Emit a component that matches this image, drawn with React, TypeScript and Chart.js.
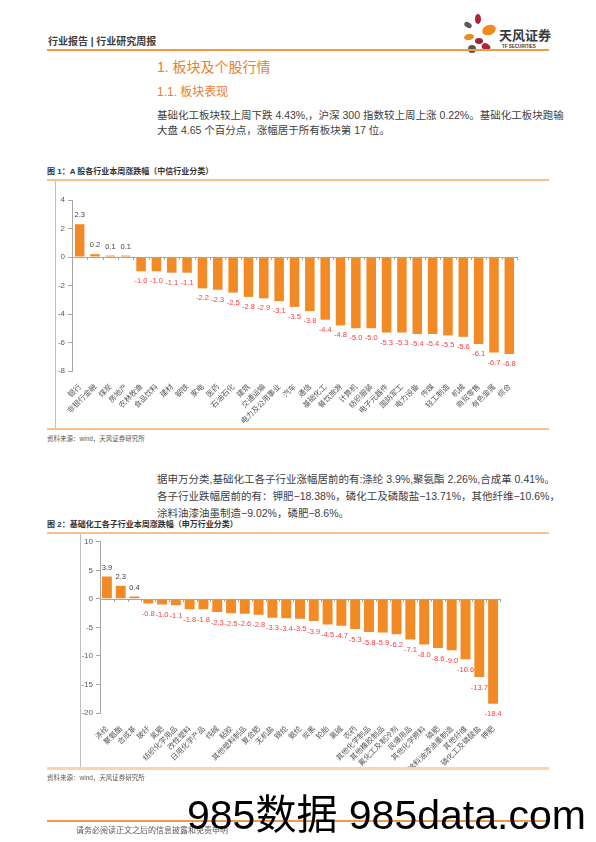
import React, { useEffect, useRef } from "react";
import { Chart, registerables } from "chart.js";
Chart.register(...registerables);

// ---------- data ----------
const citicCategories = [
  "银行", "非银行金融", "煤炭", "房地产", "农林牧渔", "食品饮料", "建材", "钢铁", "家电", "医药",
  "石油石化", "建筑", "交通运输", "电力及公用事业", "汽车", "通信", "基础化工", "餐饮旅游", "计算机", "纺织服装",
  "电子元器件", "国防军工", "电力设备", "传媒", "轻工制造", "机械", "商贸零售", "有色金属", "综合",
];
const citicValues = [
  2.3, 0.2, 0.1, 0.1, -1.0, -1.0, -1.1, -1.1, -2.2, -2.3,
  -2.5, -2.8, -2.9, -3.1, -3.5, -3.8, -4.4, -4.8, -5.0, -5.0,
  -5.3, -5.3, -5.4, -5.4, -5.5, -5.6, -6.1, -6.7, -6.8,
];
const citicAxis = { min: -8, max: 4, step: 2 };

const swCategories = [
  "涤纶", "聚氨酯", "合成革", "玻纤", "氮肥", "纺织化学用品", "改性塑料", "日用化学产品", "纯碱", "粘胶",
  "其他塑料制品", "复合肥", "无机盐", "锦纶", "氨纶", "炭黑", "轮胎", "氯碱", "农药", "其他化学制品",
  "其他橡胶制品", "氟化工及制冷剂", "民爆用品", "其他化学原料", "磷肥", "涂料油漆油墨制造", "其他纤维", "磷化工及磷酸盐", "钾肥",
];
const swValues = [
  3.9, 2.3, 0.4, -0.8, -1.0, -1.1, -1.8, -1.8, -2.3, -2.5,
  -2.6, -2.8, -3.3, -3.4, -3.5, -3.9, -4.5, -4.7, -5.3, -5.8,
  -5.9, -6.2, -7.1, -8.0, -8.6, -9.0, -10.6, -13.7, -18.4,
];
const swAxis = { min: -20, max: 10, step: 5 };

// ---------- styles ----------
const FONT = '"Liberation Sans", "Noto Sans CJK SC", sans-serif';
const CJK = '"Noto Sans CJK SC", "Liberation Sans", sans-serif';
const ORANGE = "#F28A25";
const RED = "#FF3B3B";
const AXIS = "#A6A6A6";
const TEXT = "#404040";

const valueLabels = {
  id: "valueLabels",
  afterDatasetsDraw(chart: any, _args: any, opts: any) {
    const { ctx, chartArea } = chart;
    const y0 = chart.scales.y.getPixelForValue(0);
    ctx.save();
    // zero line with small tick marks
    ctx.strokeStyle = AXIS;
    ctx.lineWidth = 1;
    ctx.beginPath();
    ctx.moveTo(chartArea.left, Math.round(y0) + 0.5);
    ctx.lineTo(chartArea.right, Math.round(y0) + 0.5);
    const n = chart.data.labels.length;
    const w = (chartArea.right - chartArea.left) / n;
    for (let i = 0; i <= n; i++) {
      const x = Math.round(chartArea.left + i * w) + 0.5;
      ctx.moveTo(x, Math.round(y0));
      ctx.lineTo(x, Math.round(y0) + 3);
    }
    ctx.stroke();
    // value labels
    const meta = chart.getDatasetMeta(0);
    const data = chart.data.datasets[0].data as number[];
    ctx.font = `${opts.size}px ${FONT}`;
    ctx.textAlign = "center";
    ctx.textBaseline = "middle";
    meta.data.forEach((bar: any, i: number) => {
      const v = data[i];
      const txt = v.toFixed(1);
      if (v >= 0) {
        ctx.fillStyle = TEXT;
        ctx.fillText(txt, bar.x, bar.y - opts.posGap);
      } else {
        ctx.fillStyle = RED;
        ctx.fillText(txt, bar.x, bar.y + opts.negGap);
      }
    });
    ctx.restore();
  },
};

type BarProps = {
  categories: string[];
  values: number[];
  axis: { min: number; max: number; step: number };
  left: number;
  top: number;
  width: number;
  height: number;
  padTop: number;
  padRight: number;
  yWidth: number;
  xHeight: number;
  barPct: number;
  tickFont: number;
  catFont: number;
  labelFont: number;
  posGap: number;
  negGap: number;
};

function BarChart(p: BarProps) {
  const ref = useRef<HTMLCanvasElement | null>(null);
  useEffect(() => {
    if (!ref.current) return;
    const chart = new Chart(ref.current, {
      type: "bar",
      data: {
        labels: p.categories,
        datasets: [
          {
            data: p.values,
            backgroundColor: ORANGE,
            borderWidth: 0,
            barPercentage: p.barPct,
            categoryPercentage: 1,
          },
        ],
      },
      options: {
        responsive: false,
        animation: false,
        devicePixelRatio: 1,
        layout: { padding: { top: p.padTop, right: p.padRight, left: 0, bottom: 0 } },
        plugins: {
          legend: { display: false },
          tooltip: { enabled: false },
          valueLabels: { size: p.labelFont, posGap: p.posGap, negGap: p.negGap },
        } as any,
        scales: {
          x: {
            grid: { display: false },
            border: { display: false },
            ticks: {
              autoSkip: false,
              maxRotation: 45,
              minRotation: 45,
              padding: 3,
              color: "#595959",
              font: { size: p.catFont, family: CJK },
            },
            afterFit: (s: any) => {
              s.height = p.xHeight;
            },
          },
          y: {
            min: p.axis.min,
            max: p.axis.max,
            grid: { drawOnChartArea: false, drawTicks: true, tickLength: 4, color: AXIS },
            border: { display: true, color: AXIS },
            ticks: {
              stepSize: p.axis.step,
              padding: 3,
              color: "#595959",
              font: { size: p.tickFont, family: FONT },
            },
            afterFit: (s: any) => {
              s.width = p.yWidth;
            },
          },
        },
      },
      plugins: [valueLabels as any],
    });
    return () => chart.destroy();
  }, []);
  return (
    <canvas
      ref={ref}
      width={p.width}
      height={p.height}
      style={{ position: "absolute", left: p.left, top: p.top, width: p.width, height: p.height }}
    />
  );
}

function T(props: {
  x: number;
  y: number;
  size: number;
  color?: string;
  bold?: boolean;
  w?: number;
  justify?: boolean;
  family?: string;
  children: React.ReactNode;
}) {
  const lh = Math.round(props.size * 1.4);
  return (
    <div
      style={{
        position: "absolute",
        left: props.x,
        top: props.y - lh / 2,
        height: lh,
        lineHeight: lh + "px",
        fontSize: props.size,
        fontWeight: props.bold ? 700 : 400,
        color: props.color || TEXT,
        fontFamily: props.family || FONT,
        whiteSpace: "nowrap",
        width: props.w,
        textAlign: props.justify ? "justify" : "left",
        textAlignLast: props.justify ? "justify" : "left",
      } as any}
    >
      {props.children}
    </div>
  );
}

function HLine(props: { x: number; y: number; w: number; h: number; color: string }) {
  return (
    <div
      style={{
        position: "absolute",
        left: props.x,
        top: props.y,
        width: props.w,
        height: props.h,
        background: props.color,
      }}
    />
  );
}

function Logo() {
  return (
    <svg
      width={40}
      height={42}
      viewBox="0 0 40 42"
      style={{ position: "absolute", left: 460, top: 13 }}
    >
      <ellipse cx={18} cy={6} rx={3} ry={5} fill="#B0243A" />
      <ellipse cx={8} cy={12} rx={4} ry={2.6} fill="#5A5A5A" transform="rotate(30 8 12)" />
      <ellipse cx={29} cy={17} rx={7} ry={5} fill="#EE8A1E" transform="rotate(-20 29 17)" />
      <ellipse cx={9} cy={24} rx={5} ry={3} fill="#EE8A1E" transform="rotate(-10 9 24)" />
      <ellipse cx={19} cy={28} rx={4} ry={3} fill="#9C2236" />
      <ellipse cx={26} cy={34} rx={4.5} ry={3.5} fill="#B0243A" transform="rotate(30 26 34)" />
      <ellipse cx={12} cy={36} rx={4} ry={4} fill="#555555" />
    </svg>
  );
}

export default function App() {
  return (
    <div
      style={{
        position: "absolute",
        left: 0,
        top: 0,
        width: 596,
        height: 842,
        background: "#fff",
        overflow: "hidden",
        fontFamily: FONT,
      }}
    >
      {/* header */}
      <T x={48} y={42} size={10} bold color="#404040">
        行业报告 | 行业研究周报
      </T>
      <Logo />
      <T x={499} y={36} size={13} bold color="#3A3A3A">
        天风证券
      </T>
      <T x={502} y={46.5} size={4.5} bold color="#3A3A3A">
        TF SECURITIES
      </T>
      <HLine x={47} y={49} w={502} h={2} color="#F39A47" />

      <T x={157} y={67} size={14} color="#E8802E">
        1. 板块及个股行情
      </T>
      <T x={157} y={92} size={12} color="#E8802E">
        1.1. 板块表现
      </T>
      <T x={157} y={115} size={10.5} w={391} justify>
        基础化工板块较上周下跌 4.43%,，沪深 300 指数较上周上涨 0.22%。基础化工板块跑输
      </T>
      <T x={157} y={130} size={10.5}>
        大盘 4.65 个百分点，涨幅居于所有板块第 17 位。
      </T>

      {/* figure 1 */}
      <T x={47} y={171} size={8} bold color="#333333">
        图 1：A 股各行业本周涨跌幅（中信行业分类）
      </T>
      <HLine x={47} y={179} w={502} h={1.5} color="#F7C08F" />
      <div style={{ position: "absolute", left: 55, top: 181, width: 1, height: 247, background: "#BFBFBF" }} />
      <BarChart
        categories={citicCategories}
        values={citicValues}
        axis={citicAxis}
        left={50}
        top={181}
        width={500}
        height={247}
        padTop={19}
        padRight={33}
        yWidth={22}
        xHeight={57}
        barPct={0.62}
        tickFont={8}
        catFont={7.5}
        labelFont={7.5}
        posGap={9}
        negGap={10}
      />
      <HLine x={47} y={428} w={502} h={1.5} color="#F7C08F" />
      <T x={47} y={438} size={6.5} color="#595959">
        资料来源：wind，天风证券研究所
      </T>

      <T x={157} y={479} size={10.5} w={391} justify>
        据申万分类,基础化工各子行业涨幅居前的有:涤纶 3.9%,聚氨酯 2.26%,合成革 0.41%。
      </T>
      <T x={157} y={496} size={10.5}>
        各子行业跌幅居前的有：钾肥−18.38%，磷化工及磷酸盐−13.71%，其他纤维−10.6%，
      </T>
      <T x={157} y={513} size={10.5}>
        涂料油漆油墨制造−9.02%，磷肥−8.6%。
      </T>

      {/* figure 2 */}
      <T x={47} y={524} size={8} bold color="#333333">
        图 2：基础化工各子行业本周涨跌幅（申万行业分类）
      </T>
      <HLine x={47} y={532} w={502} h={1.5} color="#F7C08F" />
      <div style={{ position: "absolute", left: 80, top: 534, width: 1, height: 234, background: "#BFBFBF" }} />
      <BarChart
        categories={swCategories}
        values={swValues}
        axis={swAxis}
        left={75}
        top={534}
        width={440}
        height={234}
        padTop={7}
        padRight={15}
        yWidth={25}
        xHeight={55}
        barPct={0.72}
        tickFont={8}
        catFont={7.5}
        labelFont={7.5}
        posGap={9}
        negGap={10.5}
      />
      <HLine x={47} y={767} w={502} h={3} color="#FAD3B0" />
      <T x={47} y={777} size={6.5} color="#595959">
        资料来源：wind，天风证券研究所
      </T>

      {/* footer */}
      <HLine x={47} y={820} w={502} h={1.5} color="#F39A47" />
      <T x={76} y={830} size={8} color="#595959">
        请务必阅读正文之后的信息披露和免责申明
      </T>
      <T x={187} y={815} size={41} color="#000000">
        985数据 985data.com
      </T>
    </div>
  );
}
